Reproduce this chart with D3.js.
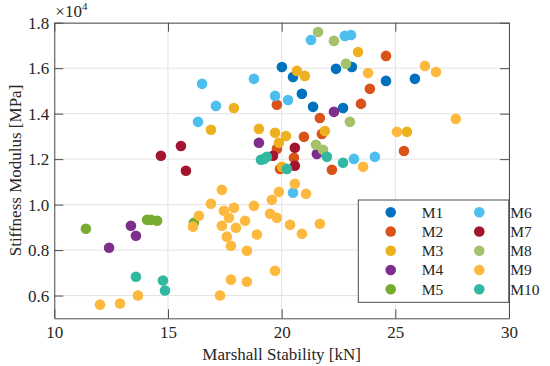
<!DOCTYPE html>
<html>
<head>
<meta charset="utf-8">
<script src="https://cdn.jsdelivr.net/npm/d3@7"></script>
<style>
    body { margin: 0; background: #fff; }
    text { font-family: "Liberation Serif", "DejaVu Serif", serif; fill: #262626; }
</style>
</head>
<body>
<div id="chart"></div>
<script>
// Marshall stability [kN] and stiffness modulus [MPa] per mix
let seriesNames = ['M1', 'M2', 'M3', 'M4', 'M5', 'M6', 'M7', 'M8', 'M9', 'M10'];
let seriesColors = ['#0072BD', '#D95319', '#EDB120', '#7E2F8E', '#77AC30',
                    '#4DBEEE', '#A2142F', '#A3C26B', '#FDB93D', '#30B8A0'];

let m1x = [20.01, 20.50, 20.89, 21.38, 22.39, 23.09, 22.70, 24.59, 25.86];
let m1y = [16050, 15610, 14870, 14300, 15970, 16050, 14250, 15440, 15530];

let m2x = [19.79, 21.68, 20.98, 21.77, 20.54, 19.79, 24.59, 23.88, 23.49, 25.38, 22.21, 19.93];
let m2y = [14390, 13810, 12980, 13110, 12060, 12450, 16540, 15090, 14430, 12360, 11530, 11570];

let m3x = [17.90, 16.89, 19.00, 19.71, 20.19, 19.88, 20.67, 21.02, 23.36, 21.90, 25.51, 20.01];
let m3y = [14250, 13290, 13330, 13160, 13020, 12720, 15880, 15660, 16710, 13240, 13200, 11660];

let m4x = [19.00, 22.30, 21.55, 13.37, 13.59, 12.41];
let m4y = [12720, 14080, 12230, 9070, 8630, 8100];

let m5x = [11.39, 14.08, 14.25, 14.52, 16.14];
let m5y = [8940, 9330, 9330, 9290, 9200];

let m6x = [16.50, 17.11, 16.32, 18.78, 19.71, 20.28, 21.29, 22.78, 23.05, 23.18, 24.10, 20.50];
let m6y = [15310, 14340, 13640, 15530, 14780, 14600, 17240, 17420, 17460, 12010, 12100, 10520];

let m7x = [14.69, 15.57, 15.79, 19.62, 20.58, 20.58];
let m7y = [12150, 12580, 11490, 12150, 12500, 11710];

let m8x = [21.60, 22.30, 22.83, 23.00, 21.51, 21.82];
let m8y = [17590, 17200, 16190, 13640, 12630, 12410];

let m9x = [23.80, 26.30, 26.79, 27.66, 25.07, 23.58, 20.58, 21.07, 19.88, 19.57,
           18.78, 17.90, 17.37, 17.46, 17.68, 17.37, 17.99, 18.39, 19.49, 19.79,
           20.37, 20.89, 21.68, 18.91, 17.59, 17.77, 18.47, 19.71, 17.77, 18.47,
           17.29, 16.89, 16.36, 16.10, 13.68, 12.89, 12.01];
let m9y = [15790, 16100, 15830, 13770, 13200, 11660, 10920, 10480, 10560, 10210,
           9950, 9860, 10650, 9730, 9420, 9070, 8980, 9290, 9600, 9420,
           9110, 8720, 9160, 8680, 8590, 8190, 7970, 7090, 6700, 6610,
           6000, 10040, 9510, 9030, 6000, 5650, 5600];

let m10x = [13.59, 14.78, 14.87, 19.09, 19.22, 19.35, 20.23, 21.99, 22.70];
let m10y = [6830, 6660, 6220, 11970, 12010, 12100, 11570, 12100, 11840];

let xTicks = [10, 15, 20, 25, 30];
let yTicks = [0.6, 0.8, 1.0, 1.2, 1.4, 1.6, 1.8];

let allX = [m1x, m2x, m3x, m4x, m5x, m6x, m7x, m8x, m9x, m10x];
let allY = [m1y, m2y, m3y, m4y, m5y, m6y, m7y, m8y, m9y, m10y];

let series = seriesNames.map(function (name, i) {
    return {
        name: name,
        color: seriesColors[i],
        points: allX[i].map((x, j) => ({ x: x, y: allY[i][j] / 1e4 }))
    };
});

let drawChart = function () {
    var w = 550, h = 366;
    var left = 54.3, right = 509, top = 22.7, bottom = 318.3;
    var fs = 17;

    const svg = d3.select('#chart').append('svg')
        .attr('width', w)
        .attr('height', h);

    const x = d3.scaleLinear().domain([10, 30]).range([left, right]);
    const y = d3.scaleLinear().domain([0.5, 1.8]).range([bottom, top]);

    // grid
    svg.append('g').selectAll('line')
        .data(xTicks)
        .enter()
        .append('line')
        .attr('x1', d => x(d)).attr('x2', d => x(d))
        .attr('y1', top).attr('y2', bottom)
        .attr('stroke', '#e3e3e3');
    svg.append('g').selectAll('line')
        .data(yTicks)
        .enter()
        .append('line')
        .attr('x1', left).attr('x2', right)
        .attr('y1', d => y(d)).attr('y2', d => y(d))
        .attr('stroke', '#e3e3e3');

    // points
    series.forEach(function (s) {
        svg.append('g').selectAll('circle')
            .data(s.points)
            .enter()
            .append('circle')
            .attr('cx', d => x(d.x))
            .attr('cy', d => y(d.y))
            .attr('r', 5.3)
            .attr('fill', s.color);
    });

    // axes (ticks inside, box on all sides)
    var tickLen = 9;
    const axB = d3.axisBottom(x).tickValues(xTicks).tickSizeInner(-tickLen).tickSizeOuter(0).tickPadding(8);
    const axT = d3.axisTop(x).tickValues(xTicks).tickSizeInner(-tickLen).tickSizeOuter(0).tickFormat('');
    const axL = d3.axisLeft(y).tickValues(yTicks).tickSizeInner(-tickLen).tickSizeOuter(0).tickPadding(5)
        .tickFormat(d3.format('.1f'));
    const axR = d3.axisRight(y).tickValues(yTicks).tickSizeInner(-tickLen).tickSizeOuter(0).tickFormat('');

    let styleAxis = function (g) {
        g.select('.domain').attr('stroke', '#4d4d4d');
        g.selectAll('.tick line').attr('stroke', '#4d4d4d');
        g.selectAll('.tick text')
            .attr('font-family', '"Liberation Serif", serif')
            .attr('font-size', fs)
            .attr('fill', '#262626');
    };

    svg.append('g').attr('transform', 'translate(0,' + bottom + ')').call(axB).call(styleAxis);
    svg.append('g').attr('transform', 'translate(0,' + top + ')').call(axT).call(styleAxis);
    svg.append('g').attr('transform', 'translate(' + left + ',0)').call(axL).call(styleAxis);
    svg.append('g').attr('transform', 'translate(' + right + ',0)').call(axR).call(styleAxis);

    // exponent
    const ex = svg.append('text')
        .attr('x', left + 1)
        .attr('y', 17)
        .attr('font-size', fs);
    ex.append('tspan').text('\u00d710');
    ex.append('tspan').attr('font-size', 11).attr('dy', -7).text('4');

    // axis labels
    svg.append('text')
        .attr('x', (left + right) / 2)
        .attr('y', 360)
        .attr('text-anchor', 'middle')
        .attr('font-size', fs)
        .text('Marshall Stability [kN]');
    svg.append('text')
        .attr('transform', 'translate(21,' + (top + bottom) / 2 + ') rotate(-90)')
        .attr('text-anchor', 'middle')
        .attr('font-size', fs)
        .text('Stiffness Modulus [MPa]');

    // legend
    var lx = 358.3, ly = 200, lw = right - lx, lh = 102.3;
    const leg = svg.append('g');
    leg.append('rect')
        .attr('x', lx).attr('y', ly)
        .attr('width', lw).attr('height', lh)
        .attr('fill', '#fff')
        .attr('stroke', '#4d4d4d');
    leg.append('line')
        .attr('x1', right).attr('x2', right)
        .attr('y1', ly).attr('y2', ly + lh)
        .attr('stroke', '#4d4d4d');

    const item = leg.selectAll('g.item')
        .data(series)
        .enter()
        .append('g')
        .attr('class', 'item')
        .attr('transform', function (d, i) {
            var col = Math.floor(i / 5), row = i % 5;
            return 'translate(' + (390.7 + col * 88.6) + ',' + (212.3 + row * 19.25) + ')';
        });
    item.append('circle')
        .attr('r', 5.3)
        .attr('fill', d => d.color);
    item.append('text')
        .attr('x', 31)
        .attr('y', 0)
        .attr('dy', '0.35em')
        .attr('font-size', 15.5)
        .text(d => d.name);
};

drawChart();
</script>
</body>
</html>
